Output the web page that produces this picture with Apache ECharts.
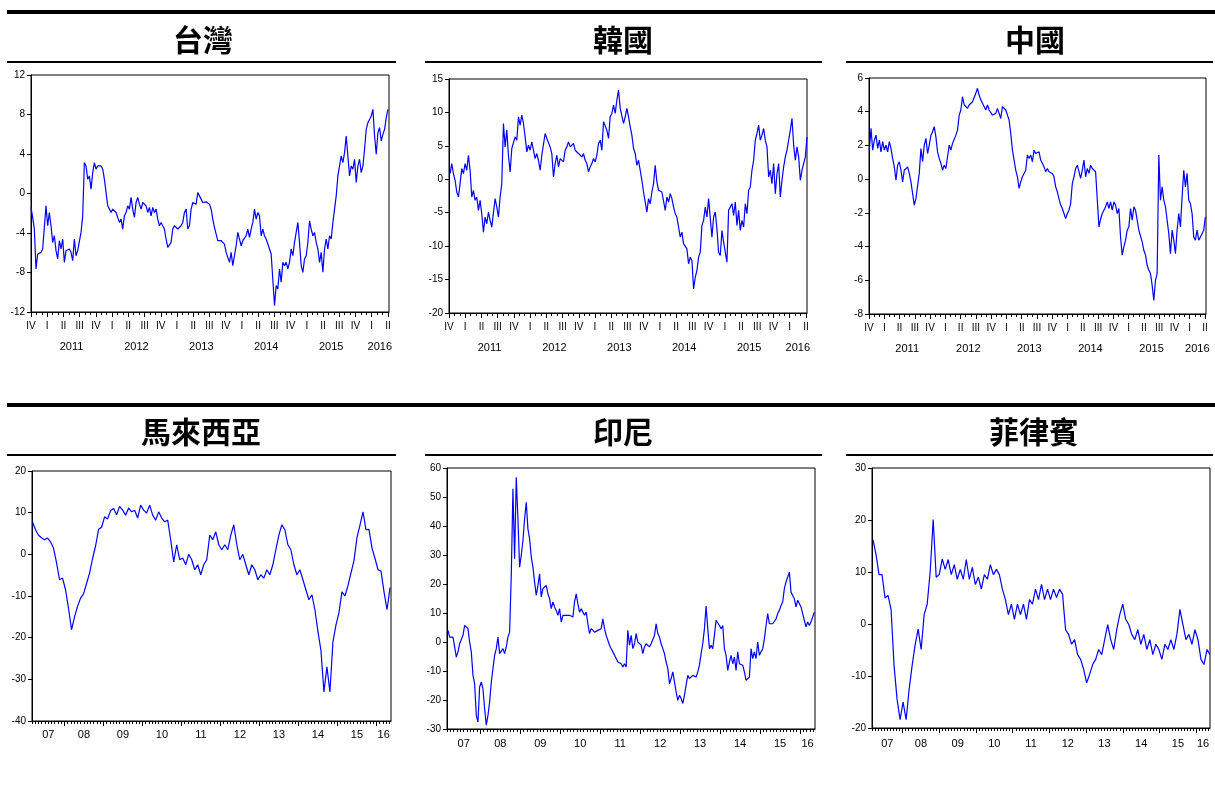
<!DOCTYPE html>
<html>
<head>
<meta charset="utf-8">
<script src="https://cdn.jsdelivr.net/npm/echarts@6/dist/echarts.min.js"></script>
<style>
  html, body { margin: 0; padding: 0; background: #fff; }
  #chart { width: 1215px; height: 797px; }
</style>
</head>
<body>
<div id="chart"></div>
<script>
// Time is counted in months from January 2000 (month 0 = Jan 2000).
const quarterNames = ['I', 'II', 'III', 'IV'];

// Upper row: Oct 2010 – Apr 2016
const upperRange = [129, 195.2];
// Lower row: Mar 2007 – May 2016
const lowerRange = [86, 196.5];

// ---- 台灣 ----
const twnSpan = [129.0, 195.0];
const twnValues = [-1.41,-2.42,-3.60,-7.64,-6.13,-6.30,-5.96,-5.62,-3.43,-1.25,-3.27,-1.92,-3.27,-4.95,-4.28,-5.79,-6.63,-4.78,-5.62,-4.61,-6.97,-5.79,-5.79,-5.62,-5.96,-6.80,-4.61,-6.30,-5.79,-5.62,-3.94,-2.26,3.13,2.79,1.45,1.78,0.44,2.12,3.13,2.46,2.79,2.96,2.79,2.46,1.45,1.45,-1.25,-1.58,-1.92,-1.58,-1.75,-1.92,-1.92,-2.93,-2.59,-3.60,-2.26,-1.92,-1.25,-1.58,-0.40,-1.58,-2.42,-0.91,-0.40,-1.08,-1.58,-0.91,-0.91,-1.25,-1.92,-1.41,-2.26,-1.41,-1.92,-1.58,-2.59,-3.27,-2.93,-3.27,-3.60,-4.61,-5.45,-5.29,-4.95,-3.60,-3.27,-3.10,-3.60,-3.43,-3.27,-2.93,-1.92,-1.58,-3.60,-3.27,-1.58,-0.91,-0.91,-1.08,0.10,0.27,-0.57,-0.91,-0.74,-0.84,-0.91,-1.08,-1.58,-2.59,-3.43,-4.11,-4.78,-4.95,-4.78,-4.61,-5.12,-5.96,-5.79,-6.97,-5.96,-7.31,-7.47,-5.29,-3.94,-4.61,-5.29,-4.78,-4.95,-4.28,-3.60,-4.44,-3.60,-2.93,-1.58,-2.59,-1.92,-2.26,-4.28,-3.60,-4.28,-4.61,-4.44,-5.62,-6.13,-6.30,-11.35,-9.33,-9.66,-7.64,-8.99,-6.97,-7.31,-6.97,-7.64,-6.97,-5.62,-6.30,-4.95,-3.94,-2.93,-4.95,-7.31,-7.98,-6.63,-6.30,-4.95,-2.76,-3.60,-4.28,-3.94,-4.95,-5.62,-6.97,-5.96,-7.98,-5.62,-4.61,-5.62,-4.28,-4.61,-2.93,-1.58,-0.24,1.78,2.79,3.80,3.13,4.14,5.82,3.80,1.78,2.79,2.46,3.47,1.11,2.79,3.47,2.12,2.79,4.48,6.50,7.17,7.17,7.85,8.52,5.82,3.97,6.16,6.67,5.32,5.99,6.50,7.68,8.52];

// ---- 韓國 ----
const korSpan = [129.2, 195.2];
const korValues = [0.85,2.35,0.85,-0.15,-1.9,-2.65,-0.65,1.6,0.85,2.35,1.35,3.6,1.35,-2.65,-1.65,-3.15,-2.65,-4.65,-3.15,-5.15,-7.9,-5.65,-6.65,-4.9,-6.15,-7.15,-7.4,-2.9,-4.15,-5.65,-2.65,-0.65,8.35,4.85,7.35,3.6,1.1,4.6,4.35,6.35,5.85,9.35,8.1,9.6,8.35,6.35,4.1,5.1,4.35,5.6,4.35,3.1,3.85,2.85,1.35,3.6,3.85,6.85,6.1,6.35,4.85,3.85,0.35,2.35,3.6,1.85,3.1,3.1,2.6,4.35,4.85,5.6,4.85,5.1,5.35,4.35,4.1,3.85,3.6,3.35,3.85,2.85,2.35,1.1,1.85,2.35,3.1,2.6,3.6,5.35,5.85,4.35,8.6,8.35,7.35,6.1,9.35,9.85,11.1,9.85,11.85,13.35,10.6,10.35,8.35,9.35,10.6,9.35,7.85,6.6,4.6,3.85,2.1,2.85,1.35,-0.15,-1.9,-3.4,-4.9,-2.9,-3.65,-1.9,-0.65,2.1,-0.4,-1.65,-1.4,-1.9,-1.65,-4.65,-2.65,-3.4,-2.15,-2.9,-4.15,-5.15,-5.65,-7.15,-8.65,-7.9,-9.65,-9.4,-10.4,-12.65,-11.65,-12.15,-16.4,-14.65,-13.65,-11.65,-10.9,-6.9,-6.15,-4.15,-5.65,-2.9,-3.15,-8.65,-5.65,-4.9,-7.4,-10.9,-11.4,-7.65,-9.4,-9.15,-12.4,-4.65,-4.4,-3.65,-5.4,-3.4,-6.9,-4.65,-7.65,-6.15,-7.15,-3.65,-5.15,-1.65,-1.15,1.35,2.85,5.85,6.85,8.1,5.85,6.6,7.6,5.85,4.85,0.35,1.35,-0.65,2.35,-2.15,0.85,2.35,-2.65,-0.15,1.85,3.35,4.35,5.85,7.35,9.1,5.1,2.85,4.85,3.35,-0.15,1.35,1.6,3.35,6.35];

// ---- 中國 ----
const chnSpan = [129.07, 195.08];
const chnValues = [1.72,3.01,1.72,2.32,2.61,1.82,2.32,1.62,2.22,1.72,2.02,1.62,2.22,1.82,1.23,0.73,-0.06,0.83,1.03,0.53,-0.16,0.53,0.63,0.73,0.34,-0.16,-0.26,-1.54,-1.15,-1.25,0.34,1.82,1.03,2.02,2.42,1.52,2.02,2.61,2.81,3.11,2.51,1.62,1.23,0.93,0.53,0.83,0.63,1.33,2.02,1.72,2.12,2.22,2.61,2.91,3.80,4.10,4.89,4.40,4.50,4.20,4.40,4.50,4.59,4.69,5.09,5.39,4.99,4.69,4.50,4.59,4.10,4.40,4.10,4.00,3.80,3.70,3.90,4.20,4.30,3.60,4.30,4.30,4.10,4.20,3.50,2.71,1.72,1.13,0.53,0.14,-0.55,-0.16,0.14,0.34,0.53,1.43,1.23,1.43,1.03,1.72,1.52,1.43,1.62,1.13,1.03,0.73,0.44,0.63,0.44,0.53,0.34,0.14,-0.46,-0.75,-1.15,-1.54,-1.74,-2.04,-2.34,-2.04,-1.84,-1.45,-0.26,0.14,0.63,0.83,0.44,0.04,0.53,1.13,0.14,0.63,0.34,0.83,0.63,0.53,0.44,0.34,-2.83,-2.38,-2.04,-1.84,-1.64,-1.35,-1.74,-1.35,-1.84,-1.35,-1.54,-2.04,-1.74,-3.43,-4.51,-4.02,-3.62,-3.03,-2.83,-1.74,-2.44,-1.64,-1.84,-2.44,-3.03,-3.03,-3.72,-4.22,-4.51,-5.11,-5.41,-5.60,-6.30,-7.19,-6.00,-5.60,1.43,-1.25,-0.46,-1.25,-1.64,-2.44,-3.23,-4.42,-3.03,-3.62,-4.42,-3.03,-2.04,-2.83,-1.05,0.53,-0.46,0.34,-1.25,-1.45,-2.04,-3.43,-3.62,-3.03,-3.62,-3.43,-3.52,-3.03,-2.24];

// ---- 馬來西亞 ----
const mysSpan = [86.15, 196.2];
const mysValues = [7.8,5.9,4.6,4.0,3.5,3.9,3.0,1.5,-2.0,-6.1,-5.7,-8.5,-13.0,-18.1,-15.0,-12.5,-10.5,-9.5,-7.0,-4.5,-1.0,2.0,6.0,6.5,9.0,8.5,10.5,11.0,9.5,11.5,10.6,9.4,11.1,10.2,10.6,8.7,11.8,10.6,9.9,11.8,9.4,8.2,10.2,8.7,7.8,8.2,3.5,-1.8,2.3,-1.3,-0.9,-2.5,0,-1.3,-3.7,-2.5,-4.9,-2.5,-1.3,4.6,3.5,5.4,2.3,1.1,2.3,1.1,4.6,7.1,2.3,-1.3,0,-2.5,-4.9,-2.5,-3.7,-6.1,-4.9,-5.7,-3.7,-4.9,-2.5,1.1,4.6,7.1,5.9,2.3,1.1,-2.5,-4.9,-3.7,-6.1,-8.5,-10.9,-9.7,-13.3,-18.5,-23,-33,-27,-33,-21,-17,-14,-9,-10,-7.5,-4.5,-1.5,4,7,10.2,5.9,6,1.5,-1,-3.7,-4,-9,-13.3,-8];

// ---- 印尼 ----
const idnSpan = [86.3, 196.3];
const idnValues = [4.0,1.7,2.3,1.7,-1.7,-5.2,-3.4,-0.6,0.0,2.3,5.7,6.3,4.6,0.0,-3.4,-11.5,-14.4,-25.3,-27.6,-15.5,-13.8,-16.1,-23.0,-28.7,-25.3,-20.7,-13.8,-9.2,-4.6,-2.3,1.7,-4.0,-3.4,-2.3,-4.0,-1.7,1.7,3.4,23.0,52.8,28.7,56.8,42.5,25.8,29.9,35.0,42.5,48.2,39.0,35.6,29.3,25.8,20.7,16.1,19.5,23.5,15.5,18.4,18.4,19.5,16.6,14.9,11.5,13.8,12.1,10.9,9.2,11.5,6.9,9.2,9.8,9.2,8.6,9.2,9.2,8.6,13.8,16.6,13.2,10.3,11.5,10.3,9.2,10.3,6.3,2.9,4.6,4.0,3.4,2.9,4.0,3.4,4.6,8.0,4.6,2.3,1.7,-1.1,-2.3,-3.4,-3.4,-5.7,-6.9,-6.3,-7.5,-8.6,-7.5,-8.6,4.0,-1.1,2.3,-2.3,-0.6,2.9,0.0,0.0,-1.1,-4.0,-1.7,-0.6,-1.1,-1.7,-0.6,-0.6,2.3,6.3,2.9,1.7,-0.6,-2.3,-4.0,-6.9,-9.2,-14.4,-12.6,-10.3,-10.3,-17.2,-20.1,-18.4,-19.5,-21.2,-18.4,-14.9,-11.5,-12.6,-13.2,-11.5,-11.5,-12.1,-10.3,-8.0,-4.0,-0.6,4.6,12.4,4.6,-2.3,-1.1,-2.3,2.3,7.5,6.9,5.7,4.6,5.7,-2.3,-4.6,-9.8,-6.9,-4.6,-7.5,-5.2,-9.8,-3.4,-7.5,-6.9,-8.0,-10.3,-13.2,-13.2,-12.1,-2.3,-5.7,-3.4,-5.7,0.0,-4.6,-3.4,-2.3,1.1,5.7,9.8,6.3,6.9,6.3,6.9,8.0,9.8,10.9,12.6,13.8,18.4,20.7,20.1,24.1,17.2,17.2,14.9,12.1,14.4,13.8,12.1,9.8,9.2,5.2,6.9,5.7,6.9,7.5,10.3];

// ---- 菲律賓 ----
const phlSpan = [86.33, 196.5];
const phlValues = [16.2,13.4,9.5,9.5,5.0,5.5,2.8,-8.0,-14.5,-18.4,-15.0,-18.4,-12.6,-8.0,-4.0,-1.0,-4.9,1.8,3.8,10.0,20.1,9.0,9.5,12.5,10.5,12.4,9.5,11.4,8.6,10.5,8.6,12.4,8.6,10.9,7.6,9.0,6.7,9.5,8.6,11.4,9.5,10.5,9.5,6.7,4.7,1.8,3.8,0.9,3.8,1.8,3.8,0.9,4.7,3.8,6.7,4.7,7.6,4.7,6.7,4.7,6.7,5.1,6.7,5.7,-1.1,-2.0,-3.9,-3.0,-5.9,-6.8,-8.7,-11.3,-9.7,-7.8,-6.8,-4.9,-5.9,-3.0,-0.1,-3.0,-4.9,-1.1,1.8,3.8,0.9,-0.1,-2.0,-3.0,-1.1,-3.9,-2.0,-4.9,-3.0,-5.9,-3.9,-4.9,-6.8,-3.9,-4.9,-3.0,-4.9,-2.0,2.8,-0.1,-3.0,-2.0,-3.9,-1.1,-3.0,-6.8,-7.8,-4.9,-5.9];

// Value-axis ranges: [min, max, step]
const twnAxis = [-12, 12, 4];
const korAxis = [-20, 15, 5];
const chnAxis = [-8, 6, 2];
const mysAxis = [-40, 20, 10];
const idnAxis = [-30, 60, 10];
const phlAxis = [-20, 30, 10];

// ---------------- layout ----------------
const FONT = '"Liberation Sans", Arial, sans-serif';
const panels = [
  { title: '台灣',     values: twnValues, span: twnSpan, axis: twnAxis, upper: true,  grid: { left: 31,  top: 75,  width: 358, height: 237 }, cx: 203,  cy: 40,  labelMargin: 9 },
  { title: '韓國',     values: korValues, span: korSpan, axis: korAxis, upper: true,  grid: { left: 449, top: 79,  width: 358, height: 234 }, cx: 623,  cy: 40,  labelMargin: 9 },
  { title: '中國',     values: chnValues, span: chnSpan, axis: chnAxis, upper: true,  grid: { left: 869, top: 78,  width: 337, height: 236 }, cx: 1035, cy: 40,  labelMargin: 9 },
  { title: '馬來西亞', values: mysValues, span: mysSpan, axis: mysAxis, upper: false, grid: { left: 32,  top: 471, width: 359, height: 250 }, cx: 201,  cy: 432, labelMargin: 8 },
  { title: '印尼',     values: idnValues, span: idnSpan, axis: idnAxis, upper: false, grid: { left: 447, top: 468, width: 368, height: 261 }, cx: 623,  cy: 432, labelMargin: 9 },
  { title: '菲律賓',   values: phlValues, span: phlSpan, axis: phlAxis, upper: false, grid: { left: 872, top: 468, width: 338, height: 260 }, cx: 1034, cy: 432, labelMargin: 10 }
];

const black = '#000';
const hiddenLine = { show: false, onZero: false };

function upperAxes(g, margin) {
  const [lo, hi] = upperRange;
  const quarters = [];
  for (let m = Math.ceil(lo / 3) * 3; m <= hi; m += 3) quarters.push(m);
  const months = [];
  for (let m = Math.ceil(lo); m <= hi; m++) if (m % 3 !== 0) months.push(m);
  const byYear = {};
  quarters.forEach(q => { const y = Math.floor(q / 12); (byYear[y] = byYear[y] || []).push(q); });
  const yearCenters = Object.values(byYear).filter(a => a.length > 1).map(a => (a[0] + a[a.length - 1]) / 2);
  const common = { type: 'value', gridIndex: g, min: lo, max: hi, position: 'bottom', splitLine: { show: false } };
  return [
    Object.assign({}, common, {
      axisLine: { show: true, onZero: false, lineStyle: { color: black, width: 1 } },
      axisTick: { show: true, customValues: quarters, length: 5, lineStyle: { color: black } },
      axisLabel: { customValues: quarters, margin: margin, fontSize: 10, color: black, fontFamily: FONT,
        formatter: v => quarterNames[(Math.round(v) % 12) / 3] }
    }),
    Object.assign({}, common, {
      axisLine: hiddenLine,
      axisTick: { show: true, customValues: months, length: 3, lineStyle: { color: black } },
      axisLabel: { show: false }
    }),
    Object.assign({}, common, {
      axisLine: hiddenLine,
      axisTick: { show: false },
      axisLabel: { customValues: yearCenters, margin: margin + 20, fontSize: 11, color: black, fontFamily: FONT,
        formatter: v => String(2000 + Math.floor(v / 12)) }
    })
  ];
}

function lowerAxes(g, margin) {
  const [lo, hi] = lowerRange;
  const yearStarts = [];
  for (let m = Math.ceil(lo / 12) * 12; m <= hi; m += 12) yearStarts.push(m);
  const months = [];
  for (let m = Math.ceil(lo); m <= hi; m++) if (m % 12 !== 0) months.push(m);
  const yearCenters = [];
  for (let y = Math.floor(lo / 12); y * 12 < hi; y++) {
    const a = Math.max(lo, y * 12), b = Math.min(hi, y * 12 + 12);
    yearCenters.push((a + b) / 2);
  }
  const common = { type: 'value', gridIndex: g, min: lo, max: hi, position: 'bottom', splitLine: { show: false } };
  return [
    Object.assign({}, common, {
      axisLine: { show: true, onZero: false, lineStyle: { color: black, width: 1 } },
      axisTick: { show: true, customValues: yearStarts, length: 5, lineStyle: { color: black } },
      axisLabel: { customValues: yearCenters, margin: margin, fontSize: 11, color: black, fontFamily: FONT,
        formatter: v => String(Math.floor(v / 12)).padStart(2, '0') }
    }),
    Object.assign({}, common, {
      axisLine: hiddenLine,
      axisTick: { show: true, customValues: months, length: 3, lineStyle: { color: black } },
      axisLabel: { show: false }
    })
  ];
}

const grids = [], xAxes = [], yAxes = [], series = [], graphics = [];

panels.forEach((p, g) => {
  grids.push(Object.assign({ show: true, borderColor: black, borderWidth: 1, backgroundColor: '#fff', containLabel: false }, p.grid));
  const axes = p.upper ? upperAxes(g, p.labelMargin) : lowerAxes(g, p.labelMargin);
  const mainIndex = xAxes.length;
  axes.forEach(a => xAxes.push(a));
  yAxes.push({
    type: 'value', gridIndex: g, min: p.axis[0], max: p.axis[1], interval: p.axis[2],
    axisLine: { show: true, onZero: false, lineStyle: { color: black, width: 1 } },
    axisTick: { show: true, length: 4, lineStyle: { color: black } },
    axisLabel: { margin: 6, fontSize: 10, color: black, fontFamily: FONT },
    splitLine: { show: false }
  });
  const n = p.values.length;
  const step = (p.span[1] - p.span[0]) / (n - 1);
  series.push({
    type: 'line', xAxisIndex: mainIndex, yAxisIndex: g,
    data: p.values.map((v, i) => [p.span[0] + i * step, v]),
    showSymbol: false, symbol: 'none', silent: true, animation: false,
    lineStyle: { color: '#0000ff', width: 1.2 }
  });
  graphics.push({
    type: 'text', x: p.cx, y: p.cy,
    style: { text: p.title, fill: black, font: 'bold 30px "Noto Sans CJK TC", "Noto Sans CJK SC", sans-serif',
      align: 'center', verticalAlign: 'middle', textAlign: 'center', textVerticalAlign: 'middle' }
  });
});

// Section rules: heavy bar above each row, thin rule under each panel title
const rules = [
  { x: 7, y: 10, w: 1208, h: 4 },
  { x: 7, y: 403, w: 1208, h: 4 },
  { x: 7, y: 61, w: 389, h: 2 }, { x: 425, y: 61, w: 397, h: 2 }, { x: 846, y: 61, w: 367, h: 2 },
  { x: 7, y: 454, w: 389, h: 2 }, { x: 425, y: 454, w: 397, h: 2 }, { x: 846, y: 454, w: 367, h: 2 }
];
rules.forEach(r => graphics.push({ type: 'rect', shape: { x: r.x, y: r.y, width: r.w, height: r.h }, style: { fill: black } }));

const chart = echarts.init(document.getElementById('chart'), null, { renderer: 'canvas' });
chart.setOption({
  backgroundColor: '#fff',
  animation: false,
  grid: grids,
  xAxis: xAxes,
  yAxis: yAxes,
  series: series,
  graphic: graphics
});
</script>
</body>
</html>
